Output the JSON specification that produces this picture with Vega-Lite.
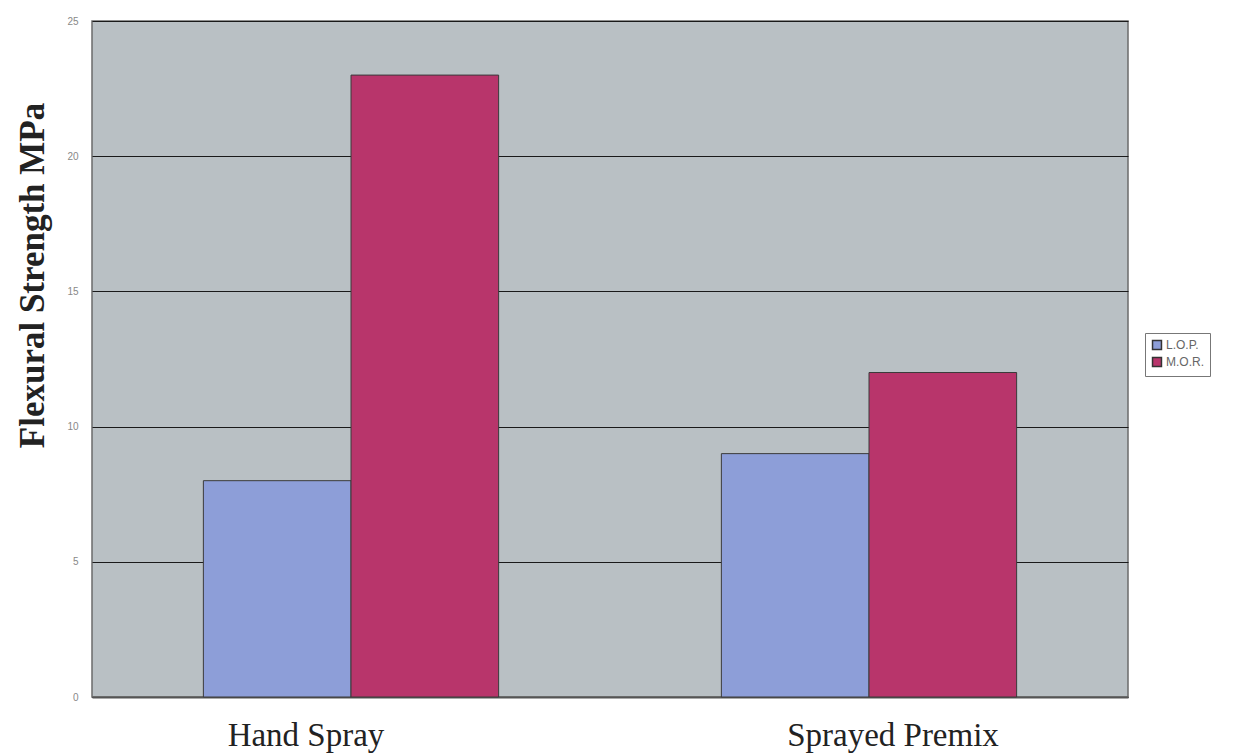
{
  "$schema": "https://vega.github.io/schema/vega-lite/v6.json",
  "autosize": "none",
  "width": 1036,
  "height": 676,
  "padding": {"left": 92, "top": 21, "right": 111, "bottom": 59},
  "background": "#ffffff",
  "config": {
    "view": {"fill": "#b9c0c4", "stroke": "#6b6b6b", "strokeWidth": 1.5},
    "font": "Liberation Serif"
  },
  "data": {
    "values": [
      {"group": "Hand Spray", "series": "L.O.P.", "value": 8},
      {"group": "Hand Spray", "series": "M.O.R.", "value": 23},
      {"group": "Sprayed Premix", "series": "L.O.P.", "value": 9},
      {"group": "Sprayed Premix", "series": "M.O.R.", "value": 12}
    ]
  },
  "mark": {"type": "bar", "stroke": "#3a3a3a", "strokeWidth": 1},
  "encoding": {
    "x": {
      "field": "group",
      "type": "nominal",
      "sort": null,
      "scale": {"paddingInner": 0.43, "paddingOuter": 0.215},
      "axis": {
        "title": null,
        "labelAngle": 0,
        "labelFont": "Liberation Serif",
        "labelFontSize": 33,
        "labelColor": "#222222",
        "labelPadding": 22,
        "labelLimit": 0,
        "labelOffset": {"condition": {"test": "datum.value === 'Hand Spray'", "value": -45}, "value": 24},
        "ticks": false,
        "domainColor": "#555555",
        "domainWidth": 2
      }
    },
    "xOffset": {"field": "series", "type": "nominal", "sort": ["L.O.P.", "M.O.R."]},
    "y": {
      "field": "value",
      "type": "quantitative",
      "scale": {"domain": [0, 25], "nice": false},
      "axis": {
        "title": "Flexural Strength MPa",
        "titleFont": "Liberation Serif",
        "titleFontSize": 35,
        "titleFontWeight": "bold",
        "titleColor": "#222222",
        "titleX": -60,
        "titleY": 254,
        "titleBaseline": "middle",
        "values": [0, 5, 10, 15, 20, 25],
        "labelFont": "Liberation Sans",
        "labelFontSize": 10,
        "labelColor": "#888888",
        "labelPadding": 14,
        "ticks": false,
        "domain": false,
        "grid": true,
        "gridColor": "#1a1a1a",
        "gridWidth": 1.2
      }
    },
    "color": {
      "field": "series",
      "type": "nominal",
      "scale": {"domain": ["L.O.P.", "M.O.R."], "range": ["#8d9ed8", "#b8356b"]},
      "legend": {
        "title": null,
        "orient": "none",
        "legendX": 1053,
        "legendY": 312,
        "symbolType": "square",
        "symbolSize": 80,
        "symbolStrokeColor": "#333333",
        "labelFont": "Liberation Sans",
        "labelFontSize": 12,
        "labelColor": "#666666",
        "labelOffset": 3,
        "rowPadding": 1,
        "padding": 6,
        "strokeColor": "#777777",
        "fillColor": "#ffffff"
      }
    }
  }
}
